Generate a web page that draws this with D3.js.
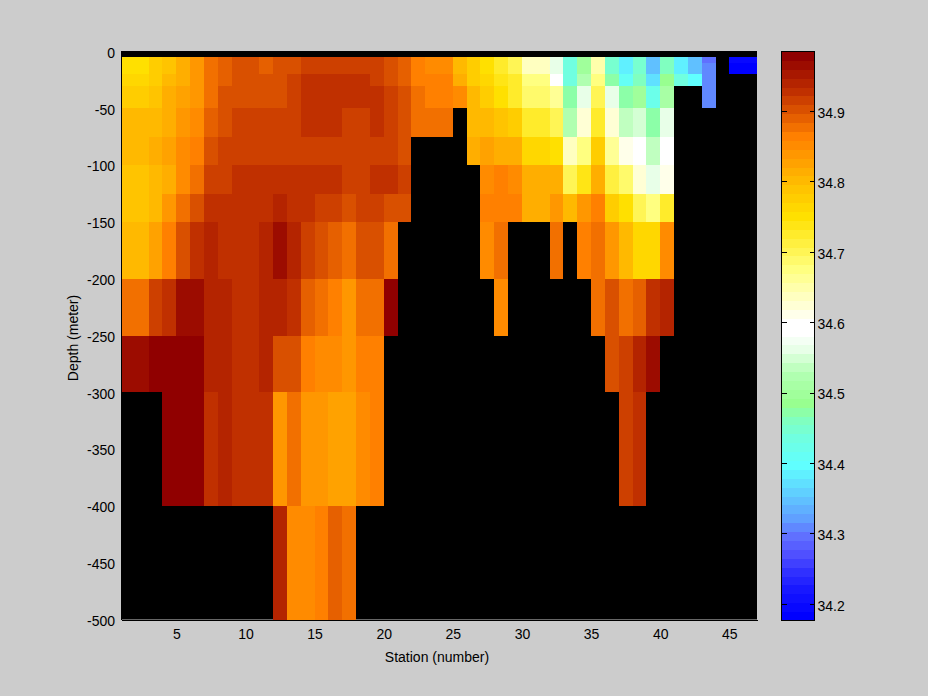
<!DOCTYPE html>
<html><head><meta charset="utf-8">
<script src="https://cdn.jsdelivr.net/npm/d3@7"></script>
<style>
html,body{margin:0;padding:0;background:#ccc}
svg{display:block}
text{font-family:"Liberation Sans",Arial,sans-serif;fill:#000}
</style></head><body>
<div id="chart"></div>
<script>
const _ = null;
const stationTicks = [5,10,15,20,25,30,35,40,45];
const depthTicks = [0,-50,-100,-150,-200,-250,-300,-350,-400,-450,-500];
const salinityTicks = [34.2,34.3,34.4,34.5,34.6,34.7,34.8,34.9];
const depthEdges = [-5,-10,-20,-30,-50,-75,-100,-125,-150,-200,-250,-300,-400,-500];
const stationRange = [1,47];
const depthRange = [0,-500];
const salinityRange = [34.177,34.985];

// colour map: stops at positions counted from the top of the 64 band colour bar
const bandStops = [0,4,9,14.6,18,21,24,27,30,31,33,35,36,39,41,43,46,48,50,52,53,54,56,58,60,63];
const bandColors = ["#900000","#c03000","#ff8000","#ffc000","#ffe000","#fff040","#ffff80","#ffffc0","#ffffff","#ffffff","#e8ffe8","#c0ffc0","#b0ffb0","#98ff90","#80ffc0","#70ffe0","#60ffff","#60e0ff","#60c0ff","#60a0ff","#6088ff","#6070ff","#5050ff","#3030ff","#1818ff","#0000ff"];

// salinity per station, one list per depth layer
const layer5 = [34.751,34.751,34.777,34.789,34.814,34.840,34.878,34.890,34.903,34.903,34.890,34.903,34.903,34.915,34.915,34.915,34.915,34.915,34.915,34.903,34.890,34.865,34.852,34.852,34.802,34.777,34.751,34.726,34.701,34.637,34.637,34.561,34.435,34.498,34.650,34.447,34.384,34.447,34.346,34.460,34.384,34.346,34.296,_,34.194,34.194];
const layer10 = [34.751,34.751,34.777,34.789,34.814,34.840,34.878,34.890,34.903,34.903,34.890,34.903,34.903,34.915,34.915,34.915,34.915,34.915,34.915,34.903,34.890,34.865,34.852,34.852,34.802,34.777,34.751,34.726,34.701,34.637,34.637,34.561,34.435,34.498,34.650,34.447,34.384,34.447,34.346,34.460,34.384,34.346,34.308,_,34.182,34.182];
const layer20 = [34.764,34.764,34.777,34.802,34.814,34.840,34.878,34.890,34.903,34.903,34.903,34.903,34.915,34.928,34.928,34.928,34.928,34.928,34.915,34.903,34.890,34.865,34.865,34.865,34.814,34.777,34.764,34.739,34.726,34.675,34.675,34.587,34.435,34.523,34.675,34.473,34.410,34.460,34.372,34.485,34.435,34.397,34.308,_,_,_];
const layer30 = [34.777,34.777,34.789,34.814,34.827,34.840,34.878,34.903,34.903,34.903,34.903,34.903,34.915,34.928,34.928,34.928,34.928,34.928,34.928,34.915,34.903,34.878,34.865,34.865,34.852,34.802,34.777,34.751,34.726,34.688,34.688,34.663,34.473,34.561,34.701,34.561,34.473,34.498,34.422,34.511,_,_,34.308,_,_,_];
const layer50 = [34.802,34.802,34.802,34.814,34.840,34.852,34.890,34.903,34.915,34.915,34.915,34.915,34.915,34.928,34.928,34.928,34.915,34.915,34.928,34.915,34.903,34.878,34.878,34.878,_,34.802,34.802,34.789,34.777,34.726,34.726,34.701,34.523,34.625,34.726,34.625,34.536,34.549,34.473,34.561,_,_,_,_,_,_];
const layer75 = [34.802,34.802,34.814,34.827,34.852,34.865,34.903,34.915,34.915,34.915,34.915,34.915,34.915,34.915,34.915,34.915,34.915,34.915,34.915,34.915,34.903,_,_,_,_,34.814,34.827,34.814,34.814,34.764,34.764,34.751,34.637,34.675,34.777,34.663,34.612,34.587,34.536,34.587,_,_,_,_,_,_];
const layer100 = [34.789,34.789,34.802,34.814,34.852,34.878,34.915,34.915,34.928,34.928,34.928,34.928,34.928,34.928,34.928,34.928,34.915,34.915,34.928,34.928,34.915,_,_,_,_,_,34.852,34.865,34.852,34.814,34.814,34.814,34.701,34.739,34.814,34.713,34.688,34.625,34.561,34.612,_,_,_,_,_,_];
const layer125 = [34.789,34.789,34.802,34.840,34.878,34.903,34.928,34.928,34.928,34.928,34.928,34.941,34.928,34.928,34.915,34.915,34.903,34.915,34.915,34.903,34.903,_,_,_,_,_,34.865,34.865,34.865,34.814,34.814,34.840,34.802,34.840,34.865,34.777,34.751,34.701,34.675,34.726,_,_,_,_,_,_];
const layer150 = [34.802,34.802,34.827,34.865,34.903,34.928,34.941,34.928,34.928,34.928,34.941,34.966,34.941,34.915,34.903,34.890,34.878,34.903,34.903,34.878,_,_,_,_,_,_,34.852,34.878,_,_,_,34.878,_,34.865,34.878,34.840,34.802,34.764,34.764,34.852,_,_,_,_,_,_];
const layer200 = [34.878,34.878,34.915,34.928,34.966,34.966,34.941,34.941,34.928,34.928,34.941,34.941,34.928,34.890,34.878,34.865,34.840,34.878,34.878,34.979,_,_,_,_,_,_,_,34.852,_,_,_,_,_,_,34.878,34.903,34.878,34.890,34.928,34.941,_,_,_,_,_,_];
const layer250 = [34.966,34.966,34.979,34.979,34.979,34.979,34.941,34.941,34.928,34.928,34.941,34.903,34.903,34.865,34.852,34.852,34.840,34.865,34.865,_,_,_,_,_,_,_,_,_,_,_,_,_,_,_,_,34.903,34.915,34.941,34.966,_,_,_,_,_,_,_];
const layer300 = [_,_,_,34.979,34.979,34.979,34.928,34.941,34.928,34.928,34.928,34.840,34.878,34.840,34.840,34.827,34.827,34.852,34.865,_,_,_,_,_,_,_,_,_,_,_,_,_,_,_,_,_,34.915,34.928,_,_,_,_,_,_,_,_];
const layer400 = [_,_,_,_,_,_,_,_,_,_,_,34.941,34.852,34.852,34.865,34.890,34.878,_,_,_,_,_,_,_,_,_,_,_,_,_,_,_,_,_,_,_,_,_,_,_,_,_,_,_,_,_];
const layers = [layer5,layer10,layer20,layer30,layer50,layer75,layer100,layer125,layer150,layer200,layer250,layer300,layer400];

const xLabel = "Station (number)";
const yLabel = "Depth (meter)";

const W = 928, H = 696;
const plot = {l:121, r:757, t:51.5, b:619.5};
const bar = {l:781.5, r:814.5, t:51.5, b:620.5};

const svg = d3.select("#chart").append("svg").attr("width",W).attr("height",H);
svg.append("rect").attr("width",W).attr("height",H).attr("fill","#cccccc");

const x = d3.scaleLinear().domain(stationRange).range([plot.l,plot.r]);
const y = d3.scaleLinear().domain(depthRange).range([plot.t,plot.b]);

const bandColor = d3.scaleLinear().domain(bandStops).range(bandColors).interpolate(d3.interpolateRgb);
const palette = d3.range(64).map(i => d3.rgb(bandColor(i)).formatHex());
const paletteLowToHigh = palette.slice().reverse();
const color = d3.scaleQuantize().domain(salinityRange).range(paletteLowToHigh);

svg.append("rect").attr("x",plot.l).attr("y",plot.t-0.5).attr("width",plot.r-plot.l).attr("height",plot.b-plot.t+0.5).attr("fill","#000");

const cells = [];
layers.forEach((row,r) => row.forEach((v,c) => { if(v!==null) cells.push({v,s:c+1,top:depthEdges[r],bot:depthEdges[r+1]}); }));
svg.append("g").attr("shape-rendering","crispEdges").selectAll("rect").data(cells).join("rect")
  .attr("x",d=>x(d.s)).attr("y",d=>y(d.top))
  .attr("width",d=>x(d.s+1)-x(d.s)).attr("height",d=>y(d.bot)-y(d.top))
  .attr("fill",d=>color(d.v));

const fs = 14;
const gx = svg.append("g").attr("transform",`translate(0,${plot.b})`)
  .call(d3.axisBottom(x).tickValues(stationTicks).tickSize(0).tickPadding(10).tickFormat(d3.format("d")));
const gy = svg.append("g").attr("transform",`translate(${plot.l},0)`)
  .call(d3.axisLeft(y).tickValues(depthTicks).tickSize(0).tickPadding(6).tickFormat(d3.format("d")));
[gx,gy].forEach(g=>{ g.selectAll("text").attr("font-size",fs).attr("font-family",null); g.attr("font-family",null).attr("font-size",null);
  g.select(".domain").attr("stroke","#000").attr("shape-rendering","crispEdges"); });
gy.selectAll("text").attr("dy","0.42em").text(d=>d3.format("d")(d).replace("−","-"));

svg.append("text").attr("x",437).attr("y",662).attr("text-anchor","middle").attr("font-size",fs).text(xLabel);
svg.append("text").attr("transform","translate(78,338) rotate(-90)").attr("text-anchor","middle").attr("font-size",fs).text(yLabel);

// colour bar
const cb = d3.scaleLinear().domain(salinityRange).range([bar.b,bar.t]);
const bandStep = (salinityRange[1]-salinityRange[0])/paletteLowToHigh.length;
svg.append("g").attr("shape-rendering","crispEdges").selectAll("rect").data(paletteLowToHigh).join("rect")
  .attr("x",bar.l).attr("width",bar.r-bar.l)
  .attr("y",(d,i)=>cb(salinityRange[0]+bandStep*(i+1)))
  .attr("height",(d,i)=>cb(salinityRange[0]+bandStep*i)-cb(salinityRange[0]+bandStep*(i+1))+0.5)
  .attr("fill",d=>d);
svg.append("rect").attr("x",bar.l).attr("y",bar.t).attr("width",bar.r-bar.l).attr("height",bar.b-bar.t)
  .attr("fill","none").attr("stroke","#000").attr("shape-rendering","crispEdges");
const tickG = svg.append("g").attr("stroke","#000").attr("shape-rendering","crispEdges");
salinityTicks.forEach(t=>{
  tickG.append("line").attr("x1",bar.l).attr("x2",bar.l+5).attr("y1",cb(t)).attr("y2",cb(t));
  tickG.append("line").attr("x1",bar.r-5).attr("x2",bar.r).attr("y1",cb(t)).attr("y2",cb(t));
});
const gc = svg.append("g").attr("transform",`translate(${bar.r},0)`)
  .call(d3.axisRight(cb).tickValues(salinityTicks).tickSize(0).tickPadding(3).tickFormat(d3.format(".1f")));
gc.select(".domain").remove();
gc.attr("font-family",null).attr("font-size",null);
gc.selectAll("text").attr("font-size",fs).attr("dy","0.42em");
</script>
</body></html>
